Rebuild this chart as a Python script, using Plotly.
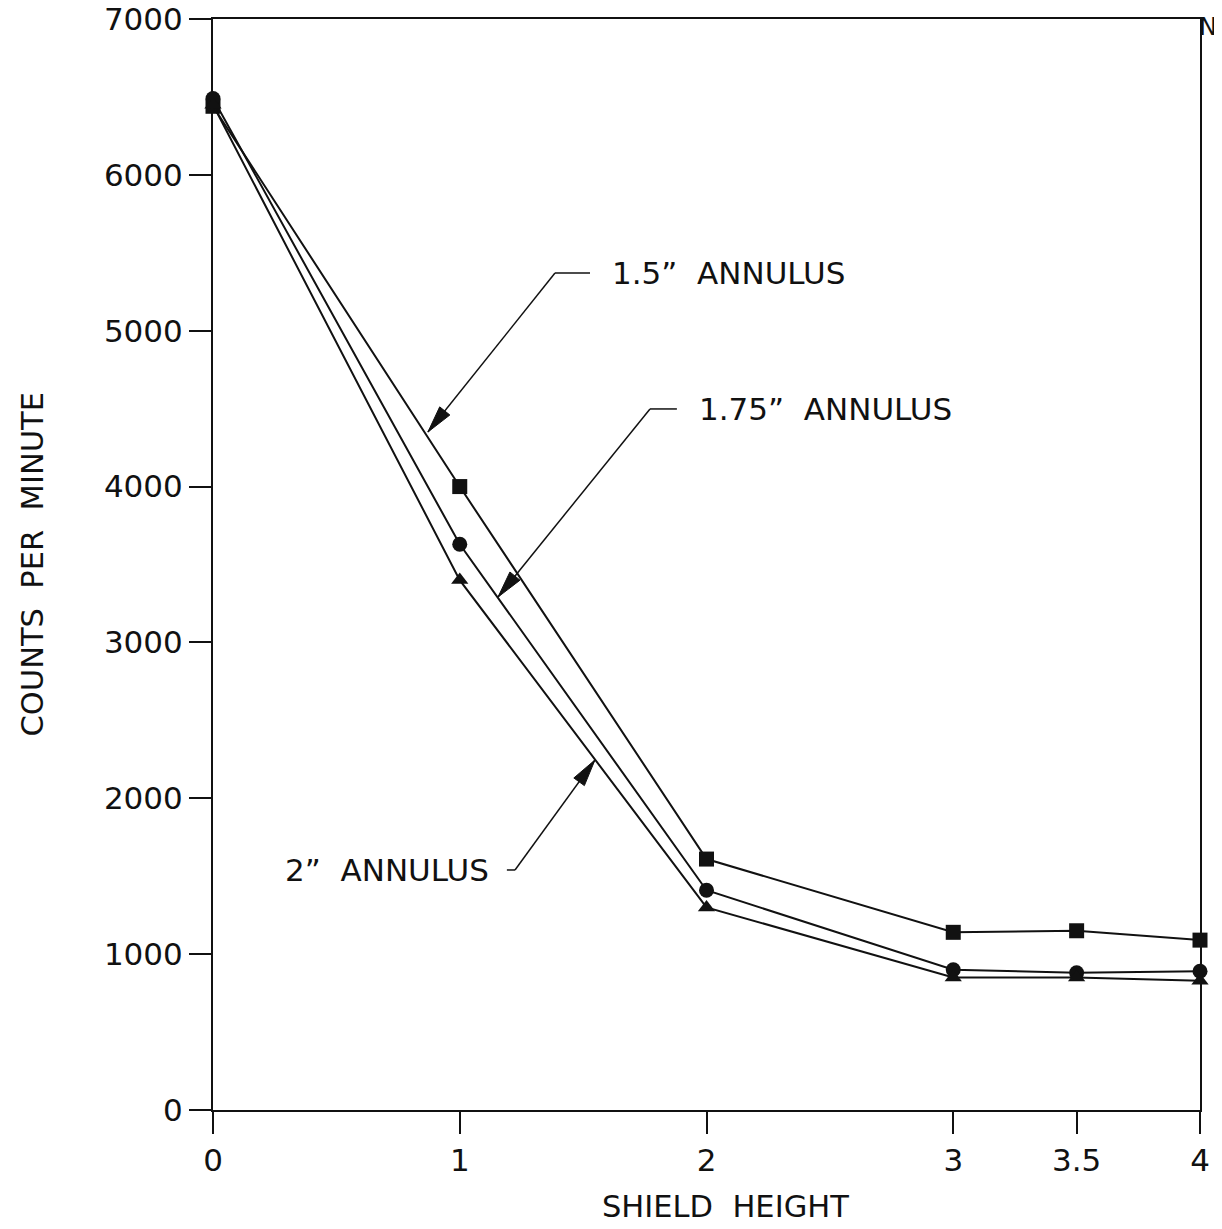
import math
import plotly.graph_objects as go

# ---- data ----
shield_height = [0, 1, 2, 3, 3.5, 4]
annulus_15 = [6440, 4000, 1610, 1140, 1150, 1090]
annulus_175 = [6490, 3630, 1410, 900, 880, 890]
annulus_2 = [6450, 3400, 1300, 850, 850, 830]

x_ticks = [0, 1, 2, 3, 3.5, 4]
x_ticklabels = ["0", "1", "2", "3", "3.5", "4"]
y_ticks = [0, 1000, 2000, 3000, 4000, 5000, 6000, 7000]

X_RANGE = [0, 4]
Y_RANGE = [0, 7000]

FONT = "DejaVu Sans"
INK = "#111111"

# page geometry (browser adds an 8px body margin)
FIG_W, FIG_H = 1214, 1221
M_L, M_R, M_T, M_B = 205, 22, 11, 119
PLOT_W = FIG_W - M_L - M_R
PLOT_H = FIG_H - M_T - M_B
PX_X = PLOT_W / (X_RANGE[1] - X_RANGE[0])
PX_Y = PLOT_H / (Y_RANGE[1] - Y_RANGE[0])

fig = go.Figure()

series = [
    ('1.5" ANNULUS', annulus_15, "square"),
    ('1.75" ANNULUS', annulus_175, "circle"),
    ('2" ANNULUS', annulus_2, "triangle-up"),
]
for name, ys, sym in series:
    fig.add_trace(go.Scatter(
        x=shield_height, y=ys, name=name, mode="lines+markers",
        line=dict(color=INK, width=2),
        marker=dict(symbol=sym, size=15, color=INK, line=dict(width=0)),
        cliponaxis=False, showlegend=False,
    ))


def arrow_head(tip_x, tip_y, tail_x, tail_y, length=27, half_w=6.5):
    dx = (tail_x - tip_x) * PX_X
    dy = (tail_y - tip_y) * PX_Y
    n = math.hypot(dx, dy)
    ux, uy = dx / n, dy / n
    bx, by = ux * length, uy * length
    px, py = -uy * half_w, ux * half_w
    c1 = (tip_x + (bx + px) / PX_X, tip_y + (by + py) / PX_Y)
    c2 = (tip_x + (bx - px) / PX_X, tip_y + (by - py) / PX_Y)
    return (f"M {tip_x},{tip_y} L {c1[0]},{c1[1]} L {c2[0]},{c2[1]} Z")


# ---- callouts (leader with bend + arrow) ----
callouts = [
    # text, text_x, text_y, anchor, bend_x_end, tail_x, tail_y, tip_x, tip_y
    ("1.5\u201d  ANNULUS", 1.607, 5370, "left", 1.528, 1.386, 5370, 0.871, 4350),
    ("1.75\u201d  ANNULUS", 1.962, 4498, "left", 1.880, 1.771, 4498, 1.155, 3291),
    ("2\u201d  ANNULUS", 1.126, 1540, "right", 1.191, 1.224, 1540, 1.548, 2246),
]
for text, tx, ty, anchor, bx, ax_, ay_, px, py in callouts:
    fig.add_shape(type="line", xref="x", yref="y", x0=bx, y0=ay_, x1=ax_, y1=ay_,
                  line=dict(color=INK, width=1.5))
    fig.add_shape(type="line", xref="x", yref="y", x0=ax_, y0=ay_, x1=px, y1=py,
                  line=dict(color=INK, width=1.5))
    fig.add_shape(type="path", xref="x", yref="y",
                  path=arrow_head(px, py, ax_, ay_),
                  fillcolor=INK, line=dict(color=INK, width=1))
    fig.add_annotation(x=tx, y=ty, xref="x", yref="y", text=text,
                       showarrow=False, xanchor=anchor, yanchor="middle",
                       font=dict(family=FONT, size=31, color=INK))

# axis titles
fig.add_annotation(text="SHIELD  HEIGHT", xref="paper", yref="paper",
                   x=(725 - 213) / PLOT_W, y=-(1206 - 1110) / PLOT_H,
                   xanchor="center", yanchor="middle", showarrow=False,
                   font=dict(family=FONT, size=30.5, color=INK))
fig.add_annotation(text="COUNTS  PER  MINUTE", xref="paper", yref="paper",
                   x=-(213 - 32) / PLOT_W, y=0.5, textangle=-90,
                   xanchor="center", yanchor="middle", showarrow=False,
                   font=dict(family=FONT, size=30.5, color=INK))
# clipped note at top right (cut off by the page edge in the original too)
fig.add_annotation(text="NO", xref="paper", yref="paper",
                   x=(1199 - 213) / PLOT_W, y=(1110 - 27) / PLOT_H,
                   xanchor="left", yanchor="middle", showarrow=False,
                   borderpad=0, borderwidth=0,
                   font=dict(family=FONT, size=24, color=INK))

axis_common = dict(showgrid=False, zeroline=False, showline=True, linecolor=INK,
                   linewidth=2, mirror=True, ticks="outside", ticklen=22,
                   tickwidth=2, tickcolor=INK, automargin=False,
                   ticklabeloverflow="allow",
                   tickfont=dict(family=FONT, size=31, color=INK))
fig.update_xaxes(range=X_RANGE, tickvals=x_ticks, ticktext=x_ticklabels,
                 **axis_common)
fig.update_yaxes(range=Y_RANGE, tickvals=y_ticks, **axis_common)

fig.update_layout(
    width=FIG_W, height=FIG_H, autosize=False,
    margin=dict(l=M_L, r=M_R, t=M_T, b=M_B, pad=0),
    paper_bgcolor="white", plot_bgcolor="white",
    font=dict(family=FONT, color=INK),
)

fig.write_html("out.html")
